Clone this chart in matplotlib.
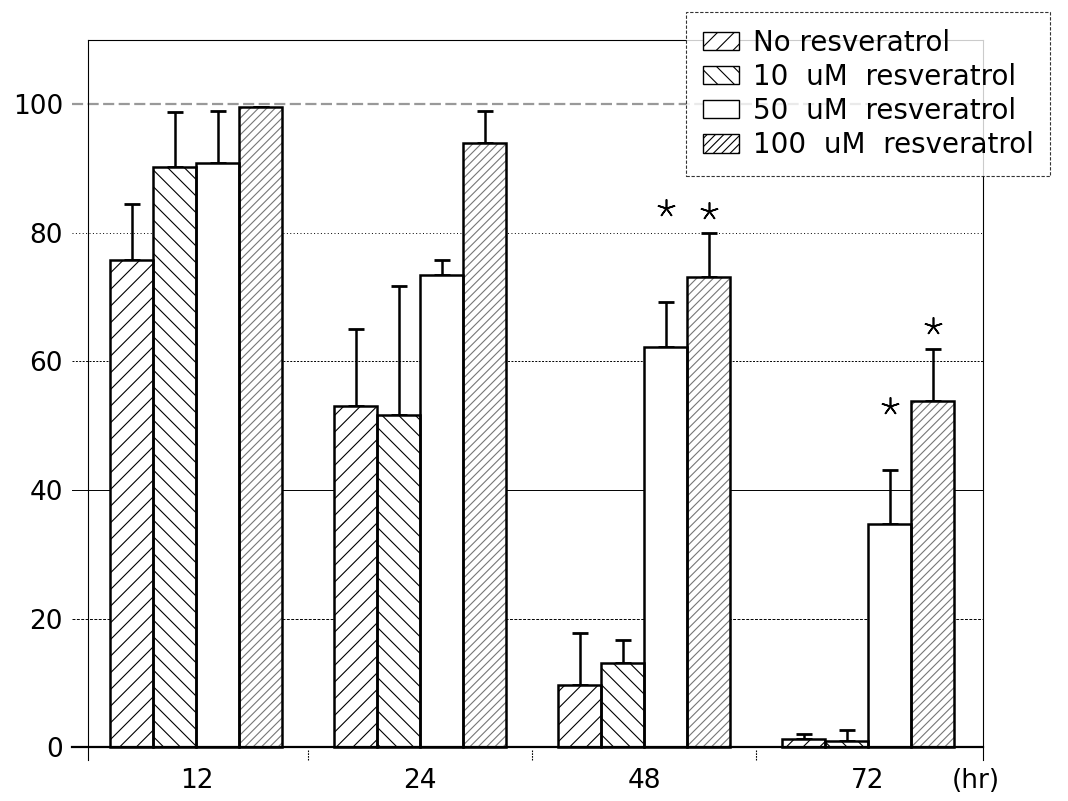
import matplotlib.pyplot as plt
import numpy as np

# dados
tempos = ["12", "24", "48", "72"]
series = ["No resveratrol", "10  uM  resveratrol", "50  uM  resveratrol", "100  uM  resveratrol"]
medias = [
    [75.7, 53.0, 9.7, 1.3],
    [90.3, 51.7, 13.1, 0.9],
    [90.8, 73.5, 62.2, 34.7],
    [99.6, 93.9, 73.1, 53.8],
]
topo_erro = [
    [84.5, 65.0, 17.8, 2.0],
    [98.8, 71.8, 16.7, 2.6],
    [99.0, 75.7, 69.3, 43.1],
    [99.6, 99.0, 80.0, 62.0],
]
# asteriscos: (grupo, série, altura)
estrelas = [(2, 2, 83.9), (2, 3, 83.4), (3, 2, 53.1), (3, 3, 65.5)]
hachuras = ["//", "\\\\", "", "////"]
cor_hachura = ["black", "black", "white", "#777777"]

plt.rcParams['font.family'] = ['DejaVu Sans']
plt.rcParams['hatch.linewidth'] = 0.8

fig = plt.figure(figsize=(10.68, 8.01), dpi=100)
ax = fig.add_axes([0.0824, 0.0512, 0.8380, 0.8989])

x = np.arange(len(tempos))
w = 0.192

for i in range(len(series)):
    pos = x + (i - 1.5) * w
    # hachura (cor própria) e depois o contorno preto
    ax.bar(pos, medias[i], w, color="white", edgecolor=cor_hachura[i],
           hatch=hachuras[i], linewidth=0, zorder=3)
    ax.bar(pos, medias[i], w, fill=False, edgecolor="black", linewidth=1.8, zorder=4)
    erro = np.array(topo_erro[i]) - np.array(medias[i])
    ax.errorbar(pos, medias[i], yerr=[np.zeros_like(erro), erro], fmt="none",
                ecolor="black", elinewidth=1.8, capsize=6, capthick=2, zorder=2)

for g, s, h in estrelas:
    ax.plot(x[g] + (s - 1.5) * w, h, marker=(5, 2, 0), markersize=13,
            markeredgewidth=1.2, color="black", zorder=5)

# linhas de grade horizontais com estilos diferentes
estilos = {100: dict(color="#999999", ls=(0, (5, 2)), lw=1.6),
           80: dict(color="black", ls=(0, (1, 2.5)), lw=0.7),
           60: dict(color="black", ls=(0, (2, 1.5)), lw=0.7),
           40: dict(color="black", ls="-", lw=0.7),
           20: dict(color="black", ls=(0, (3, 1.5)), lw=0.7)}
for yv, st in estilos.items():
    ax.plot([-0.018, 1], [yv, yv], transform=ax.get_yaxis_transform(),
            clip_on=False, zorder=1, **st)
ax.plot([-0.018, 1], [0, 0], transform=ax.get_yaxis_transform(),
        clip_on=False, color="black", lw=1.6, zorder=5)

# pequenas marcas entre os grupos
for xs in [0.5, 1.5, 2.5]:
    ax.plot([xs, xs], [-0.4, -2], color="black", ls=(0, (1.5, 1)), lw=0.8, clip_on=False)

ax.set_xlim(-0.484, 3.513)
ax.set_ylim(-2, 110)
ax.set_yticks([0, 20, 40, 60, 80, 100])
ax.set_xticks(x)
ax.set_xticklabels(tempos)
ax.tick_params(axis="y", length=0, pad=18, labelsize=19)
ax.tick_params(axis="x", length=0, pad=6, labelsize=19)

for lado in ["left", "top", "right"]:
    ax.spines[lado].set_linestyle((0, (1.5, 1)))
    ax.spines[lado].set_linewidth(0.8)
ax.spines["bottom"].set_visible(False)

ax.text(3.48, -5.2, "(hr)", fontsize=19, ha="center", va="center", clip_on=False)

handles = [plt.Rectangle((0, 0), 1, 1, facecolor="white", edgecolor="black",
                         hatch=hachuras[i], linewidth=1) for i in range(len(series))]
leg = fig.legend(handles, series, loc="upper left", bbox_to_anchor=(686 / 1068, 1 - 12 / 801),
                 fontsize=20, frameon=True, fancybox=False, handlelength=1.3,
                 handleheight=0.65, handletextpad=0.5, labelspacing=0.22,
                 borderpad=0.6, borderaxespad=0)
leg.get_frame().set_linestyle((0, (3, 1.5)))
leg.get_frame().set_linewidth(0.8)
leg.get_frame().set_edgecolor("black")
leg.set_zorder(10)

fig.savefig("out.png", dpi=100)
